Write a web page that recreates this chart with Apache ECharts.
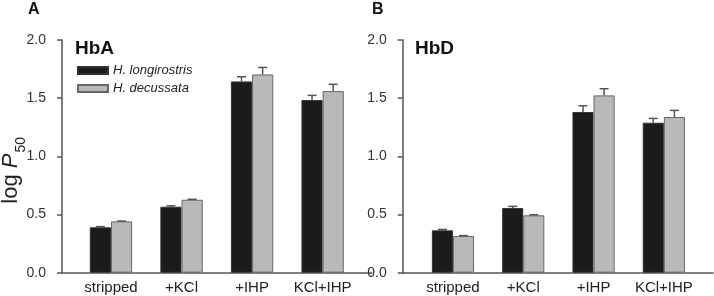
<!DOCTYPE html>
<html>
<head>
<meta charset="utf-8">
<script src="https://cdn.jsdelivr.net/npm/echarts@6/dist/echarts.min.js"></script>
<style>
  html, body { margin: 0; padding: 0; background: #fff; }
  #chart { width: 714px; height: 296px; }
</style>
</head>
<body>
<div id="chart"></div>
<script>
// categories and values
var categories = ['stripped', '+KCl', '+IHP', 'KCl+IHP'];
var yTicks = [0, 0.5, 1.0, 1.5, 2.0];

var hbaLongirostris = [0.39, 0.567, 1.644, 1.484];
var hbaLongirostrisErr = [0.006, 0.008, 0.04, 0.04];
var hbaDecussata = [0.441, 0.627, 1.704, 1.561];
var hbaDecussataErr = [0.003, 0.004, 0.06, 0.058];

var hbdLongirostris = [0.364, 0.556, 1.381, 1.289];
var hbdLongirostrisErr = [0.008, 0.014, 0.054, 0.037];
var hbdDecussata = [0.315, 0.493, 1.524, 1.338];
var hbdDecussataErr = [0.004, 0.005, 0.057, 0.057];

var FONT = '"Liberation Sans", Arial, sans-serif';
var AXIS_COLOR = '#555';
var BLACK = '#1b1b1b';
var GRAY = '#b9b9b9';

var chart = echarts.init(document.getElementById('chart'));

// error bar drawn on top of a bar, side = -1 (left bar) or 1 (right bar)
function errorSeries(name, values, errs, xi, yi, side) {
    return {
        name: name + ' err',
        type: 'custom',
        xAxisIndex: xi,
        yAxisIndex: yi,
        z: 5,
        silent: true,
        data: values.map(function (v, i) { return [i, v, errs[i]]; }),
        renderItem: function (params, api) {
            var idx = api.value(0);
            var v = api.value(1);
            var e = api.value(2);
            var band = api.size([1, 0])[0];
            var dx = side * band * 0.15;
            var base = api.coord([idx, v]);
            var top = api.coord([idx, v + e]);
            var x = base[0] + dx;
            var style = { stroke: AXIS_COLOR, lineWidth: 1.5 };
            return {
                type: 'group',
                children: [
                    { type: 'line', shape: { x1: x, y1: base[1], x2: x, y2: top[1] }, style: style },
                    { type: 'line', shape: { x1: x - 4.5, y1: top[1], x2: x + 4.5, y2: top[1] }, style: style }
                ]
            };
        }
    };
}

function barSeries(name, values, xi, yi, color, border) {
    return {
        name: name,
        type: 'bar',
        xAxisIndex: xi,
        yAxisIndex: yi,
        data: values,
        barGap: '0%',
        barCategoryGap: '40%',
        itemStyle: { color: color, borderColor: border, borderWidth: 1 }
    };
}

function baseYAxis(gi, withName) {
    var ax = {
        type: 'value',
        gridIndex: gi,
        min: yTicks[0],
        max: yTicks[yTicks.length - 1],
        interval: 0.5,
        axisLine: { show: true, onZero: false, lineStyle: { color: AXIS_COLOR, width: 1.5 } },
        axisTick: { show: true, length: 5, lineStyle: { color: AXIS_COLOR, width: 1.5 } },
        axisLabel: {
            fontFamily: FONT, fontSize: 14, color: '#333', margin: 16,
            formatter: function (v) { return v.toFixed(1); }
        },
        splitLine: { show: false }
    };
    if (withName) {
        ax.name = '{l|log }{p|P}{s|50}';
        ax.nameLocation = 'middle';
        ax.nameRotate = 90;
        ax.nameGap = 40;
        ax.nameMoveOverlap = false;
        ax.nameTextStyle = {
            padding: [0, 28, 0, 0],
            rich: {
                l: { fontFamily: FONT, fontSize: 22, color: '#222', lineHeight: 26, verticalAlign: 'bottom' },
                p: { fontFamily: FONT, fontSize: 22, fontStyle: 'italic', color: '#222', lineHeight: 26, verticalAlign: 'bottom' },
                s: { fontFamily: FONT, fontSize: 14, color: '#222', lineHeight: 26, verticalAlign: 'bottom', padding: [0, 0, -6, 1] }
            }
        };
    }
    return ax;
}

function hiddenYAxis(gi) {
    return { type: 'value', gridIndex: gi, min: 0, max: 2, show: false };
}

function baseXAxis(gi) {
    return {
        type: 'value', gridIndex: gi, min: 0, max: 1,
        axisLine: { show: true, onZero: false, lineStyle: { color: AXIS_COLOR, width: 1.5 } },
        axisTick: { show: false }, axisLabel: { show: false }, splitLine: { show: false }
    };
}

function catXAxis(gi) {
    return {
        type: 'category', gridIndex: gi, data: categories,
        axisLine: { show: false }, axisTick: { show: false },
        axisLabel: { fontFamily: FONT, fontSize: 15, color: '#222', margin: 8, interval: 0 }
    };
}

function panelTitle(text, left, top, size) {
    return {
        text: text, left: left, top: top, padding: 0,
        textStyle: { fontFamily: FONT, fontSize: size, fontWeight: 'bold', color: '#111' }
    };
}

var option = {
    animation: false,
    backgroundColor: '#fff',
    title: [
        panelTitle('A', 28, 2, 16),
        panelTitle('B', 372, 2, 16),
        panelTitle('HbA', 75, 39, 19),
        panelTitle('HbD', 415, 39, 19)
    ],
    legend: {
        data: ['H. longirostris', 'H. decussata'],
        orient: 'vertical',
        left: 77,
        top: 63,
        padding: 0,
        icon: 'rect',
        itemWidth: 30,
        itemHeight: 7,
        itemGap: 3,
        textStyle: { fontFamily: FONT, fontSize: 13, fontStyle: 'italic', color: '#222', lineHeight: 15 }
    },
    grid: [
        { left: 62, top: 40, width: 310, height: 232.7, outerBoundsMode: 'none' },
        { left: 75.7, top: 40, width: 282.2, height: 232.7, outerBoundsMode: 'none' },
        { left: 402.7, top: 40, width: 310.3, height: 232.7, outerBoundsMode: 'none' },
        { left: 417.8, top: 40, width: 281.2, height: 232.7, outerBoundsMode: 'none' }
    ],
    xAxis: [baseXAxis(0), catXAxis(1), baseXAxis(2), catXAxis(3)],
    yAxis: [baseYAxis(0, true), hiddenYAxis(1), baseYAxis(2, false), hiddenYAxis(3)],
    series: [
        barSeries('H. longirostris', hbaLongirostris, 1, 1, BLACK, '#333'),
        barSeries('H. decussata', hbaDecussata, 1, 1, GRAY, '#666'),
        errorSeries('H. longirostris', hbaLongirostris, hbaLongirostrisErr, 1, 1, -1),
        errorSeries('H. decussata', hbaDecussata, hbaDecussataErr, 1, 1, 1),
        barSeries('H. longirostris', hbdLongirostris, 3, 3, BLACK, '#333'),
        barSeries('H. decussata', hbdDecussata, 3, 3, GRAY, '#666'),
        errorSeries('H. longirostris', hbdLongirostris, hbdLongirostrisErr, 3, 3, -1),
        errorSeries('H. decussata', hbdDecussata, hbdDecussataErr, 3, 3, 1)
    ]
};

chart.setOption(option);
</script>
</body>
</html>
